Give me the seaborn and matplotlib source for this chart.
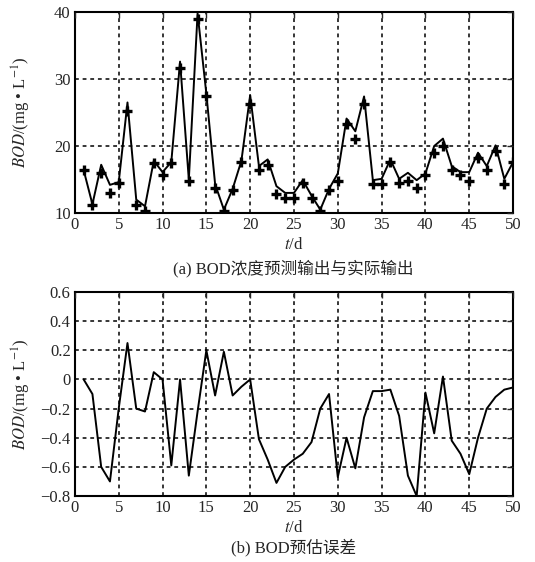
import numpy as np
import pandas as pd
import matplotlib
matplotlib.use("Agg")
import matplotlib.pyplot as plt
import seaborn as sns

# 时间 (d)
dias = list(range(1, 51))

# 实际输出 (marcadores +)
bod_real = [16.4, 11.2, 15.9, 13.0, 14.5, 25.2, 11.2, 10.3, 17.5, 15.6,
            17.5, 31.7, 14.8, 39.0, 27.5, 13.8, 10.3, 13.4, 17.6, 26.2,
            16.4, 17.1, 12.8, 12.3, 12.3, 14.5, 12.3, 10.3, 13.4, 14.8,
            23.3, 21.0, 26.2, 14.4, 14.4, 17.6, 14.5, 14.8, 13.8, 15.6,
            19.0, 20.0, 16.4, 15.6, 14.8, 18.2, 16.4, 19.3, 14.4, 17.6]

# 预测输出 (línea)
bod_pred = [16.4, 11.3, 17.2, 14.2, 14.6, 26.5, 12.0, 11.0, 17.8, 16.1,
            17.6, 32.6, 15.0, 39.8, 27.8, 14.3, 10.5, 13.6, 17.8, 27.6,
            17.0, 18.0, 14.0, 13.0, 13.0, 14.9, 12.6, 10.5, 13.6, 15.9,
            24.1, 22.2, 27.4, 14.9, 15.1, 18.0, 15.1, 16.0, 14.9, 15.9,
            20.0, 21.1, 17.0, 16.1, 16.1, 19.0, 17.0, 20.1, 15.1, 17.6]

# 预估误差
error = [0.0, -0.10, -0.60, -0.70, -0.20, 0.25, -0.20, -0.22, 0.05, 0.0,
         -0.59, 0.0, -0.66, -0.22, 0.20, -0.11, 0.19, -0.11, -0.05, 0.0,
         -0.41, -0.55, -0.71, -0.60, -0.55, -0.51, -0.43, -0.20, -0.10, -0.67,
         -0.40, -0.61, -0.26, -0.08, -0.08, -0.07, -0.25, -0.66, -0.80, -0.09,
         -0.37, 0.02, -0.42, -0.51, -0.65, -0.40, -0.20, -0.12, -0.07, -0.055]

df = pd.DataFrame({"t": dias, "real": bod_real, "pred": bod_pred, "err": error})

sns.set_style("white")
plt.rcParams["font.family"] = ["Liberation Serif", "Noto Sans CJK SC"]
plt.rcParams["mathtext.fontset"] = "stix"
plt.rcParams["font.size"] = 12

fig = plt.figure(figsize=(5.35, 5.62), dpi=100)
ax1 = fig.add_axes([0.140, 0.621, 0.819, 0.3576])
ax2 = fig.add_axes([0.140, 0.1174, 0.819, 0.363])

grid_kw = dict(color="black", linestyle=(0, (2.5, 2.5)), linewidth=1.1)

# (a) 预测输出与实际输出
sns.lineplot(data=df, x="t", y="pred", ax=ax1, color="black", linewidth=1.4)
sns.scatterplot(data=df, x="t", y="real", ax=ax1, marker="+", color="black",
                s=42, linewidth=2.4, zorder=3)
ax1.set_xlim(0, 50)
ax1.set_ylim(10, 40)
ax1.set_xticks(range(0, 51, 5))
ax1.set_yticks([10, 20, 30, 40])
ax1.grid(True, **grid_kw)
ax1.set_xlabel("$t$/d", fontsize=12, labelpad=3)
ax1.set_ylabel("$BOD$/(mg • L$^{-1}$)", fontsize=12)

# (b) 预估误差
sns.lineplot(data=df, x="t", y="err", ax=ax2, color="black", linewidth=1.4)
ax2.set_xlim(0, 50)
ax2.set_ylim(-0.8, 0.6)
ax2.set_xticks(range(0, 51, 5))
ax2.set_yticks(np.round(np.arange(-0.8, 0.61, 0.2), 1))
ax2.set_yticklabels(["\u22120.8", "\u22120.6", "\u22120.4", "\u22120.2", "0",
                     "0.2", "0.4", "0.6"])
ax2.grid(True, **grid_kw)
ax2.set_xlabel("$t$/d", fontsize=12, labelpad=3)
ax2.set_ylabel("$BOD$/(mg • L$^{-1}$)", fontsize=12)

for ax in (ax1, ax2):
    ax.tick_params(direction="in", length=4, width=1, labelsize=12,
                   top=True, right=True, pad=3)
    for s in ax.spines.values():
        s.set_linewidth(1.5)
        s.set_color("black")
    ax.set_axisbelow(False)
    ax.yaxis.set_label_coords(-0.095, 0.5)

fig.text(0.548, 0.523, "(a) BOD浓度预测输出与实际输出", ha="center", va="center",
         fontsize=12)
fig.text(0.548, 0.025, "(b) BOD预估误差", ha="center", va="center",
         fontsize=12)

fig.savefig("out.png", dpi=100)
